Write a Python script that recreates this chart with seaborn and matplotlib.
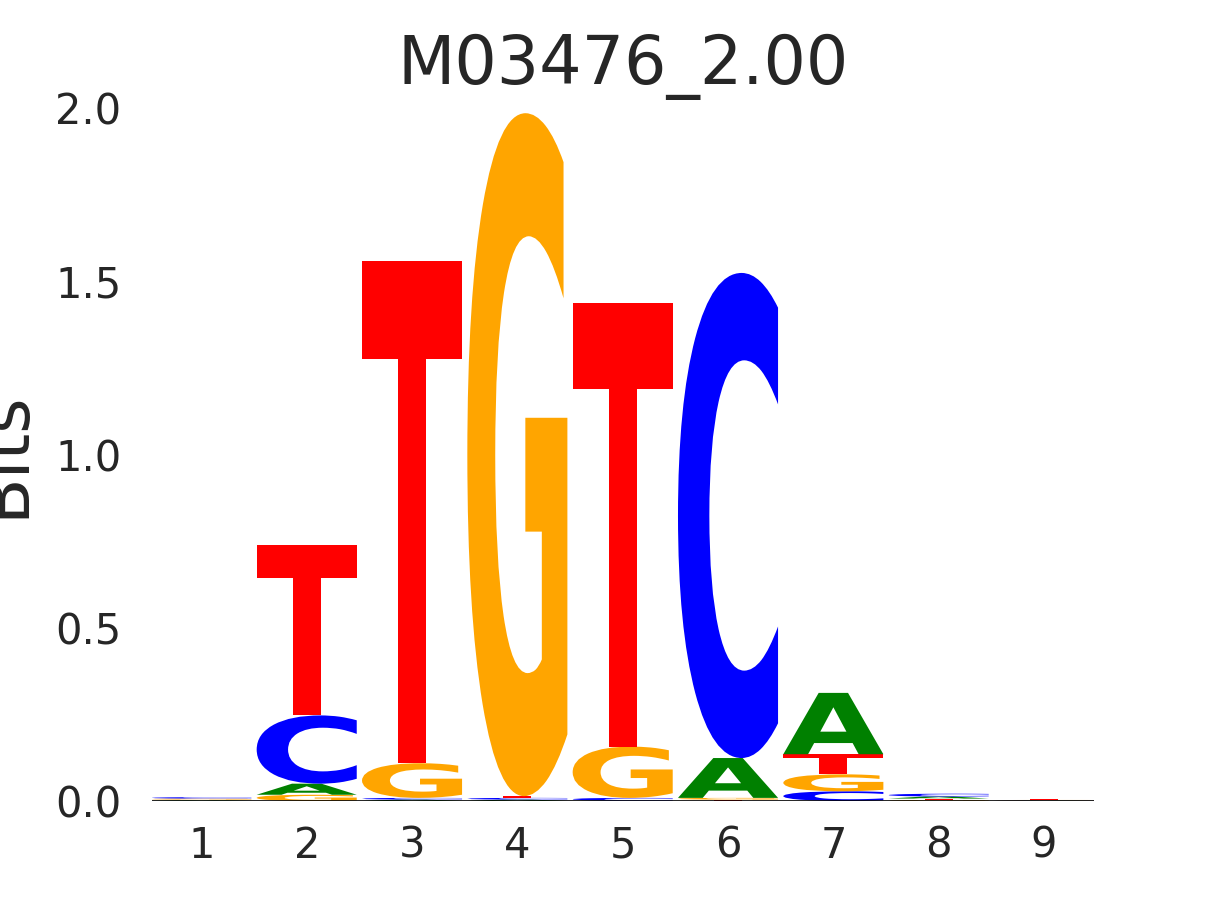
import numpy as np
import pandas as pd
import seaborn as sns
import matplotlib
matplotlib.use("Agg")
import matplotlib.pyplot as plt
from matplotlib.textpath import TextPath
from matplotlib.patches import PathPatch
from matplotlib.font_manager import FontProperties
from matplotlib.transforms import Affine2D

# ---- data (information content, bits, per base per position) ----
positions = [1, 2, 3, 4, 5, 6, 7, 8, 9]
bits_A = [0.002, 0.032, 0.004, 0.004, 0.001, 0.115, 0.177, 0.006, 0.001]
bits_C = [0.004, 0.197, 0.005, 0.005, 0.008, 1.400, 0.028, 0.008, 0.001]
bits_G = [0.003, 0.018, 0.100, 1.971, 0.148, 0.005, 0.049, 0.003, 0.001]
bits_T = [0.002, 0.493, 1.449, 0.005, 1.281, 0.004, 0.058, 0.004, 0.002]
title = "M03476_2.00"
ylabel = "Bits"
yticks = [0.0, 0.5, 1.0, 1.5, 2.0]

base_colors = {"A": "green", "C": "blue", "G": "orange", "T": "red"}

df = pd.DataFrame({"A": bits_A, "C": bits_C, "G": bits_G, "T": bits_T}, index=positions)

sns.set_theme(style="white")
plt.rcParams["font.family"] = ["DejaVu Sans"]

fig, ax = plt.subplots(figsize=(12.15, 9), dpi=100)

glyph_font = FontProperties(family="DejaVu Sans", weight="bold")
width = 0.95


def draw_glyph(ax, char, x, bottom, height, color):
    if height <= 0:
        return
    tp = TextPath((0, 0), char, size=1, prop=glyph_font)
    ext = tp.get_extents()
    tr = (Affine2D()
          .translate(-ext.x0, -ext.y0)
          .scale(width / ext.width, height / ext.height)
          .translate(x - width / 2, bottom))
    path = tr.transform_path(tp)
    ax.add_patch(PathPatch(path, facecolor=color, edgecolor="none", lw=0))


for pos in df.index:
    row = df.loc[pos]
    order = sorted(row.index, key=lambda b: row[b])
    bottom = 0.0
    for b in order:
        h = row[b]
        draw_glyph(ax, b, pos, bottom, h, base_colors[b])
        bottom += h

ax.axhline(0, color="black", lw=1.2, zorder=5)
ax.set_xlim(0.53, 9.47)
ax.set_ylim(0, 2.0)
ax.set_xticks(positions)
ax.set_xticklabels([str(p) for p in positions])
ax.set_yticks(yticks)
ax.set_yticklabels([f"{v:.1f}" for v in yticks])
ax.tick_params(axis="both", length=0, labelsize=30, colors="#262626")
ax.tick_params(axis="x", pad=17)
ax.tick_params(axis="y", pad=22)
for s in ax.spines.values():
    s.set_visible(False)
ax.set_title(title, fontsize=48, color="#262626", pad=17)
ax.set_ylabel(ylabel, fontsize=49, color="#262626", labelpad=13)

fig.savefig("out.png", dpi=100)
